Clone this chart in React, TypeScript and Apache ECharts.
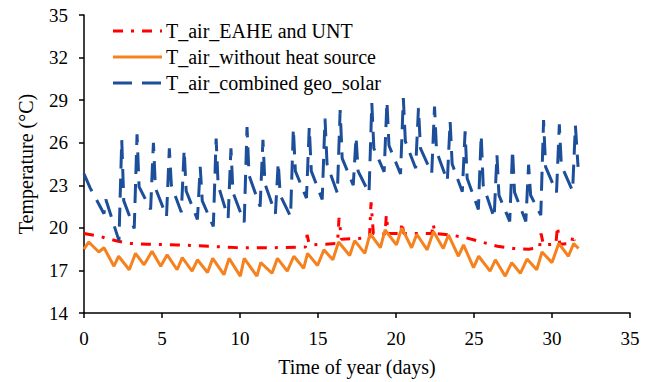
import React, { useEffect, useRef } from "react";
import * as echarts from "echarts";

const seriesNames = ["T_air_EAHE and UNT", "T_air_without heat source", "T_air_combined geo_solar"];
const seriesColors = ["#FF0000", "#F5821F", "#1C4E9A"];
const seriesDashes: (number[] | null)[] = [[10, 8, 3, 8], null, [19, 10]];
const xTicks = [0, 5, 10, 15, 20, 25, 30, 35];
const yTicks = [14, 17, 20, 23, 26, 29, 32, 35];

// [day, °C]
const eaheUnt: number[][] = [
  [0, 19.6], [1, 19.4], [2.2, 19.05], [3, 18.9], [4, 18.85], [6, 18.8], [8, 18.7], [10, 18.6],
  [12, 18.6], [14.2, 18.65], [14.3, 19.5], [14.45, 18.8], [15.5, 18.85], [16.25, 18.9],
  [16.35, 20.7], [16.5, 19.2], [17.5, 19.25], [18.3, 19.3], [18.4, 21.8], [18.55, 19.6],
  [19.3, 19.55], [19.38, 20.9], [19.5, 19.6], [20.3, 19.6], [20.38, 20.4], [20.5, 19.6],
  [22.3, 19.6], [22.38, 20.3], [22.5, 19.6], [23.5, 19.5], [24.5, 19.3], [25.5, 19.0],
  [26.5, 18.7], [27.5, 18.55], [28.5, 18.5], [29.2, 18.6], [29.3, 19.6], [29.45, 18.8],
  [30.25, 18.85], [30.35, 20.1], [30.5, 18.85], [31.25, 18.9], [31.35, 19.5], [31.45, 19.1]
];

const noHeat: number[][] = [
  [0, 18.5], [0.3, 19.0], [0.95, 18.3], [1.28, 18.6], [1.92, 17.3], [2.22, 18.0], [2.9, 17.05],
  [3.3, 18.2], [3.85, 17.4], [4.36, 18.35], [4.92, 17.3], [5.33, 18.1], [5.97, 17.05],
  [6.3, 17.9], [6.93, 16.95], [7.27, 17.75], [7.92, 16.85], [8.25, 17.85], [8.97, 16.7],
  [9.3, 17.85], [10.02, 16.6], [10.27, 17.85], [11.08, 16.6], [11.33, 17.55], [12.05, 16.8],
  [12.4, 17.85], [13.03, 16.95], [13.45, 18.0], [14.08, 17.15], [14.33, 18.2], [14.97, 17.35],
  [15.38, 18.45], [15.95, 17.75], [16.32, 19.0], [17.03, 18.05], [17.35, 19.1], [18.0, 18.2],
  [18.34, 19.6], [19.0, 18.6], [19.3, 19.85], [20.03, 18.8], [20.37, 20.0], [21.0, 18.6],
  [21.33, 19.55], [22.0, 18.45], [22.4, 19.75], [23.03, 18.55], [23.36, 19.5], [24.0, 18.0],
  [24.33, 18.8], [24.97, 17.2], [25.3, 18.0], [26.03, 16.95], [26.37, 17.75], [27.0, 16.6],
  [27.42, 17.55], [27.97, 16.8], [28.4, 17.8], [29.02, 17.05], [29.36, 18.3], [30.0, 17.55],
  [30.43, 18.9], [31.05, 18.0], [31.39, 18.9], [31.7, 18.55]
];

const geoSolar: number[][] = [
  [0, 23.8], [0.4, 22.8], [1.28, 21.0], [1.4, 22.0], [2.24, 19.1],
  [2.42, 26.2], [2.55, 21.9], [3.22, 19.95],
  [3.4, 26.6], [3.53, 22.9], [4.27, 21.3],
  [4.45, 26.0], [4.58, 22.8], [5.29, 20.8],
  [5.47, 25.6], [5.6, 23.0], [6.24, 21.1],
  [6.42, 25.5], [6.55, 22.6], [7.27, 20.6],
  [7.45, 24.3], [7.58, 21.9], [8.29, 20.1],
  [8.47, 26.3], [8.6, 23.0], [9.24, 20.7],
  [9.42, 25.6], [9.55, 22.5], [10.27, 20.4],
  [10.45, 27.1], [10.58, 23.7], [11.29, 21.5],
  [11.47, 26.2], [11.6, 23.1], [12.27, 21.0],
  [12.45, 24.6], [12.58, 22.3], [13.24, 20.8],
  [13.42, 27.0], [13.55, 24.0], [14.26, 22.1],
  [14.44, 27.1], [14.57, 24.0], [15.27, 22.0],
  [15.45, 27.7], [15.58, 24.5], [16.24, 22.45],
  [16.42, 28.3], [16.55, 24.9], [17.26, 23.0],
  [17.44, 26.4], [17.57, 24.0], [18.27, 22.45],
  [18.45, 28.8], [18.58, 25.6], [19.24, 23.95],
  [19.42, 28.9], [19.55, 25.8], [20.29, 23.8],
  [20.47, 29.15], [20.6, 26.1], [21.26, 24.2],
  [21.44, 28.45], [21.57, 25.6], [22.29, 23.85],
  [22.47, 28.55], [22.6, 25.4], [23.29, 23.3],
  [23.47, 27.5], [23.6, 24.5], [24.25, 22.55],
  [24.43, 26.8], [24.56, 23.5], [25.28, 21.3],
  [25.46, 26.55], [25.59, 23.0], [26.29, 20.7],
  [26.47, 25.15], [26.6, 22.3], [27.29, 20.45],
  [27.47, 25.5], [27.6, 22.5], [28.32, 20.45],
  [28.5, 24.45], [28.63, 22.3], [29.28, 20.9],
  [29.46, 27.6], [29.59, 24.3], [30.29, 22.5],
  [30.47, 27.3], [30.6, 24.4], [31.32, 22.6],
  [31.5, 27.2], [31.67, 24.3]
];

const FONT = "Liberation Serif";

export default function App() {
  const ref = useRef<HTMLDivElement>(null);
  useEffect(() => {
    if (!ref.current) return;
    const chart = echarts.init(ref.current, null, { renderer: "svg" });
    const axisCommon = {
      axisLine: { show: true, lineStyle: { color: "#000", width: 1.5 } },
      axisTick: { show: true, inside: false, length: 5, lineStyle: { color: "#000", width: 1.5 } },
      splitLine: { show: false },
    };
    const legendTop = 31;
    const legendStep = 26;
    const legendLines: any[] = [];
    const legendTitles: any[] = [];
    seriesNames.forEach((name, i) => {
      const y = legendTop + i * legendStep;
      legendLines.push({
        type: "line",
        shape: { x1: 113, y1: y, x2: 162, y2: y },
        style: {
          stroke: seriesColors[i],
          lineWidth: 3,
          lineDash: seriesDashes[i] || undefined,
        },
      });
      legendTitles.push({
        text: name,
        left: 166,
        top: y - 11,
        padding: 0,
        textStyle: {
          fontFamily: FONT,
          fontSize: 20,
          fontWeight: "normal",
          color: "#000",
          lineHeight: 22,
        },
      });
    });
    const dataSets = [eaheUnt, noHeat, geoSolar];
    chart.setOption({
      animation: false,
      backgroundColor: "#fff",
      textStyle: { fontFamily: FONT },
      title: legendTitles,
      grid: { left: 84, right: 24, top: 15, bottom: 69, containLabel: false },
      xAxis: {
        type: "value",
        min: 0,
        max: 35,
        interval: 5,
        ...axisCommon,
        axisTick: { ...axisCommon.axisTick, customValues: xTicks },
        axisLabel: { fontFamily: FONT, fontSize: 19, color: "#000", margin: 16, customValues: xTicks },
        name: "Time of year (days)",
        nameLocation: "middle",
        nameGap: 44,
        nameTextStyle: { fontFamily: FONT, fontSize: 20, color: "#000" },
      },
      yAxis: {
        type: "value",
        min: 14,
        max: 35,
        ...axisCommon,
        axisTick: { ...axisCommon.axisTick, customValues: yTicks },
        axisLabel: { fontFamily: FONT, fontSize: 19, color: "#000", margin: 16, customValues: yTicks },
        name: "Temperature (°C)",
        nameLocation: "middle",
        nameGap: 48,
        nameTextStyle: { fontFamily: FONT, fontSize: 20, color: "#000" },
      },
      graphic: legendLines,
      series: seriesNames.map((name, i) => ({
        name,
        type: "line",
        data: dataSets[i],
        symbol: "none",
        showSymbol: false,
        lineStyle: {
          color: seriesColors[i],
          width: 3,
          type: seriesDashes[i] || "solid",
        },
        itemStyle: { color: seriesColors[i] },
      })),
    });
    return () => chart.dispose();
  }, []);
  return (
    <div
      ref={ref}
      style={{ position: "absolute", left: 0, top: 0, width: 654, height: 382, background: "#fff" }}
    />
  );
}
